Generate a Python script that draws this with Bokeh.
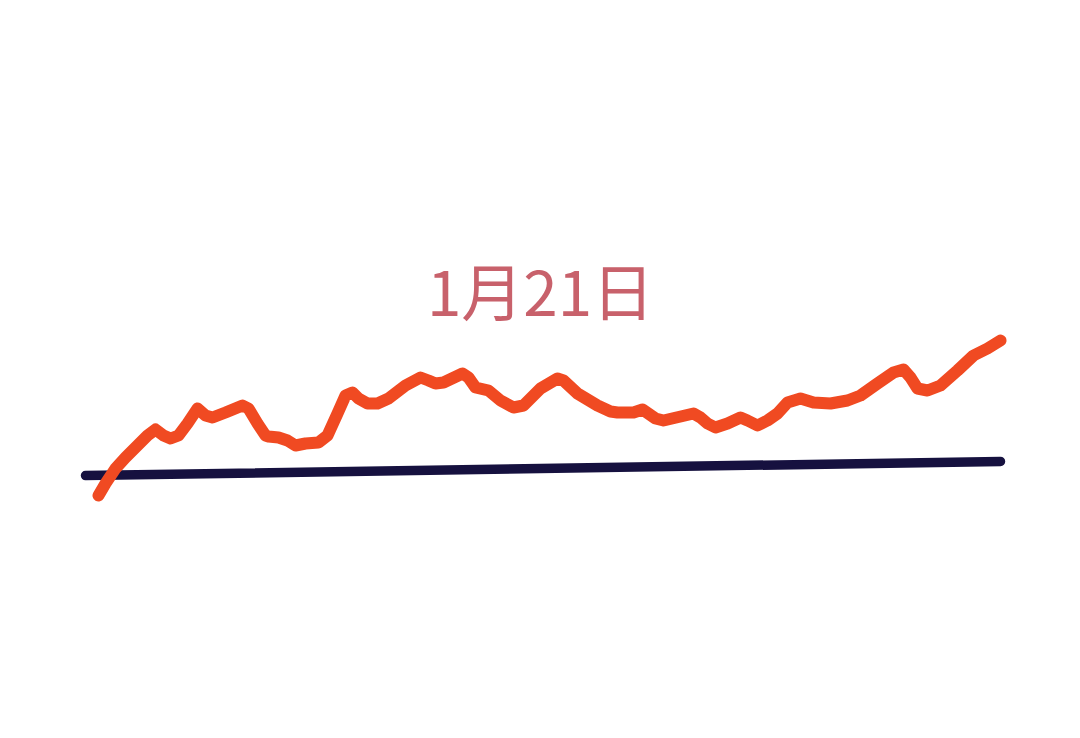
from bokeh.plotting import figure
from bokeh.models import Range1d
from bokeh.core.properties import value
from bokeh.embed import file_html
from bokeh.resources import INLINE

# hand-drawn trend line (traced positions)
line_x = [98, 105, 115, 125, 137, 147, 155, 163, 170, 178, 187, 197, 205, 212, 225, 242, 248, 257,
          265, 268, 278, 287, 295, 305, 318, 327, 337, 345, 352, 358, 367, 377, 388, 405, 420, 428,
          435, 443, 462, 468, 475, 488, 500, 513, 523, 540, 557, 563, 577, 597, 610, 617, 633, 642,
          655, 663, 693, 700, 707, 715, 727, 740, 747, 757, 767, 777, 787, 800, 813, 830, 847, 860,
          877, 893, 903, 910, 917, 927, 940, 957, 973, 987, 1000]
line_y = [495, 483, 468, 457, 445, 435, 429, 435, 438, 435, 423, 408, 415, 417, 412, 405, 408, 423,
          435, 436, 437, 440, 445, 443, 442, 435, 413, 395, 392, 398, 403, 403, 398, 385, 377, 380,
          383, 382, 373, 377, 387, 390, 400, 407, 405, 388, 378, 380, 393, 405, 411, 412, 412, 409,
          418, 420, 413, 417, 423, 427, 423, 417, 420, 425, 420, 413, 402, 398, 402, 403, 400, 395,
          383, 372, 369, 377, 388, 390, 385, 370, 355, 348, 340]

base_x = [85, 1000]
base_y = [475, 461]

title_text = "1月21日"
title_x = [540]
title_y = [288]

p = figure(width=1064, height=722, output_backend="svg", toolbar_location=None,
           x_range=Range1d(0, 1064), y_range=Range1d(722, 0),
           min_border=0, outline_line_color=None, background_fill_color="white")
p.axis.visible = False
p.grid.visible = False

p.line(base_x, base_y, line_color="#16113f", line_width=9.5, line_cap="round")
p.line(line_x, line_y, line_color="#f04a22", line_width=12, line_cap="round", line_join="round")

p.text(x=title_x, y=title_y, text=[title_text], text_font=value("Noto Sans CJK SC"),
       text_font_size="62px", text_color="#c8616b", text_align="center", text_baseline="middle")

open("out.html", "w").write(file_html(p, INLINE))
